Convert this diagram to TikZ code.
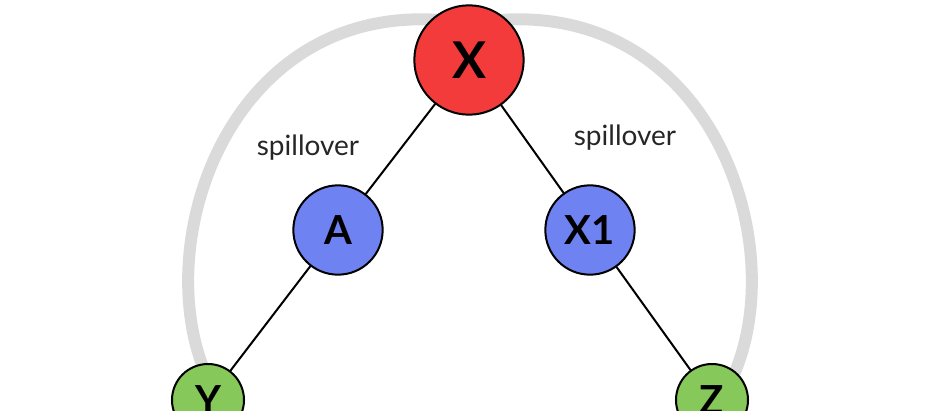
\documentclass[tikz,border=0pt]{standalone}
\usepackage{fontspec}
\setmainfont{Lato}
\usetikzlibrary{positioning}
\definecolor{nodered}{HTML}{F43B3B}
\definecolor{nodeblue}{HTML}{6F82F2}
\definecolor{nodegreen}{HTML}{86C95A}
\definecolor{arcgray}{HTML}{DADADA}
\begin{document}
\begin{tikzpicture}[x=0.75pt,y=-0.75pt,line cap=round,line join=round,
  vertex/.style={circle,draw=black,line width=1.5pt,inner sep=0pt,font=\bfseries},
  spill/.style={font=\fontsize{21}{24}\selectfont,text=black!85}]
\useasboundingbox (0,0) rectangle (940,411);
\clip (0,0) rectangle (940,411);
% gray arcs behind the tree
\draw[arcgray,line width=9pt] (440,20) .. controls (230,5) and (150,240) .. (205,372);
\draw[arcgray,line width=9pt] (500,20) .. controls (710,5) and (790,240) .. (735,372);
% nodes
\node[vertex,fill=nodered,minimum size=82pt,font=\bfseries\fontsize{38}{42}\selectfont] (X) at (469,60) {X};
\node[vertex,fill=nodeblue,minimum size=67pt,font=\bfseries\fontsize{30}{34}\selectfont] (A) at (338,230) {A};
\node[vertex,fill=nodeblue,minimum size=67pt,font=\bfseries\fontsize{30}{34}\selectfont] (X1) at (590,230) {X1};
\node[vertex,fill=nodegreen,minimum size=54pt,font=\bfseries\fontsize{30}{34}\selectfont] (Y) at (208,400) {Y};
\node[vertex,fill=nodegreen,minimum size=54pt,font=\bfseries\fontsize{30}{34}\selectfont] (Z) at (712,400) {Z};
% edges
\draw[line width=1.5pt] (X) -- (A);
\draw[line width=1.5pt] (X) -- (X1);
\draw[line width=1.5pt] (A) -- (Y);
\draw[line width=1.5pt] (X1) -- (Z);
% labels
\node[spill] (sl) at (308,148) {spillover};
\node[spill] (sr) at (625,138) {spillover};
\end{tikzpicture}
\end{document}
